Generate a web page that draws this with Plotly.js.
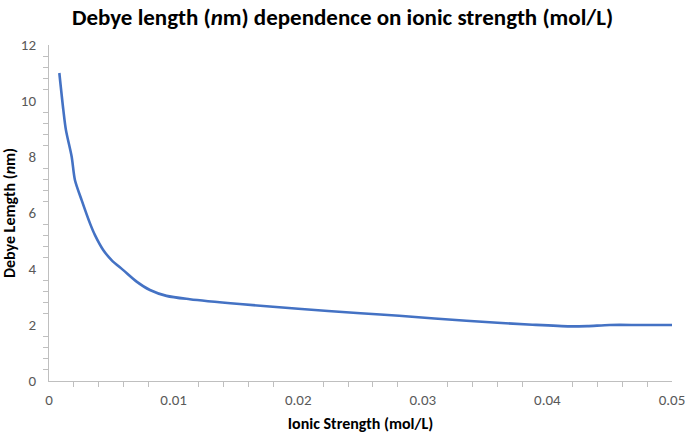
<!DOCTYPE html>
<html><head><meta charset="utf-8">
<script src="https://cdn.plot.ly/plotly-3.0.1.min.js"></script>
<style>html,body{margin:0;padding:0;background:#fff}#chart{width:685px;height:433px}</style>
</head><body><div id="chart"></div>
<script>
const ionicStrength = [0.00083, 0.00115, 0.00136, 0.00182, 0.00208, 0.00262, 0.00329, 0.00369, 0.00435, 0.00502, 0.00596, 0.00703, 0.0081, 0.00943, 0.0113, 0.0153, 0.020, 0.025, 0.0281, 0.0335, 0.0388, 0.0418, 0.0432, 0.0450, 0.0475, 0.050];
const debyeLength   = [11.0, 9.68, 8.96, 8.01, 7.18, 6.46, 5.63, 5.21, 4.68, 4.32, 3.96, 3.55, 3.25, 3.04, 2.92, 2.75, 2.58, 2.42, 2.33, 2.15, 2.01, 1.95, 1.96, 2.0, 2.0, 2.0];
const fontFam = 'Carlito, "Open Sans", "Liberation Sans", sans-serif';
Plotly.newPlot('chart', [{
  x: ionicStrength, y: debyeLength, type: 'scatter', mode: 'lines',
  line: {color: '#4472C4', width: 2.6, shape: 'spline', smoothing: 0.8},
  hoverinfo: 'skip', cliponaxis: false
}], {
  width: 685, height: 433,
  margin: {l: 49, r: 13, t: 45, b: 52},
  paper_bgcolor: '#fff', plot_bgcolor: '#fff',
  font: {family: fontFam, color: '#595959', size: 15},
  showlegend: false,
  title: {text: 'Debye length (<i>n</i>m) dependence on ionic strength (mol/L)', x: 0.5, xanchor: 'center', y: 0.962, yanchor: 'middle', font: {family: fontFam, size: 23, color: '#000', weight: 'bold'}},
  xaxis: {
    range: [0, 0.05], dtick: 0.01, tick0: 0, showgrid: false, zeroline: false,
    showline: true, linecolor: '#BFBFBF', linewidth: 1,
    ticks: '', tickfont: {size: 15, color: '#595959'}, ticklabelstandoff: 5, ticklabeloverflow: 'allow',
    minor: {dtick: 0.002, ticks: 'outside', ticklen: 5, tickcolor: '#BFBFBF', showgrid: false},
    title: {text: 'Ionic Strength (mol/L)', standoff: 10, font: {size: 16, color: '#000', weight: 'bold'}}
  },
  yaxis: {
    range: [0, 12], dtick: 2, tick0: 0, showgrid: false, zeroline: false,
    showline: true, linecolor: '#BFBFBF', linewidth: 1,
    ticks: '', tickfont: {size: 15, color: '#595959'}, ticklabelstandoff: 9,
    minor: {dtick: 0.4, ticks: 'outside', ticklen: 5, tickcolor: '#BFBFBF', showgrid: false},
    title: {text: 'Debye Lemgth (<i>n</i>m)', standoff: 6, font: {size: 16, color: '#000', weight: 'bold'}}
  }
}, {displayModeBar: false, staticPlot: true});
</script></body></html>
